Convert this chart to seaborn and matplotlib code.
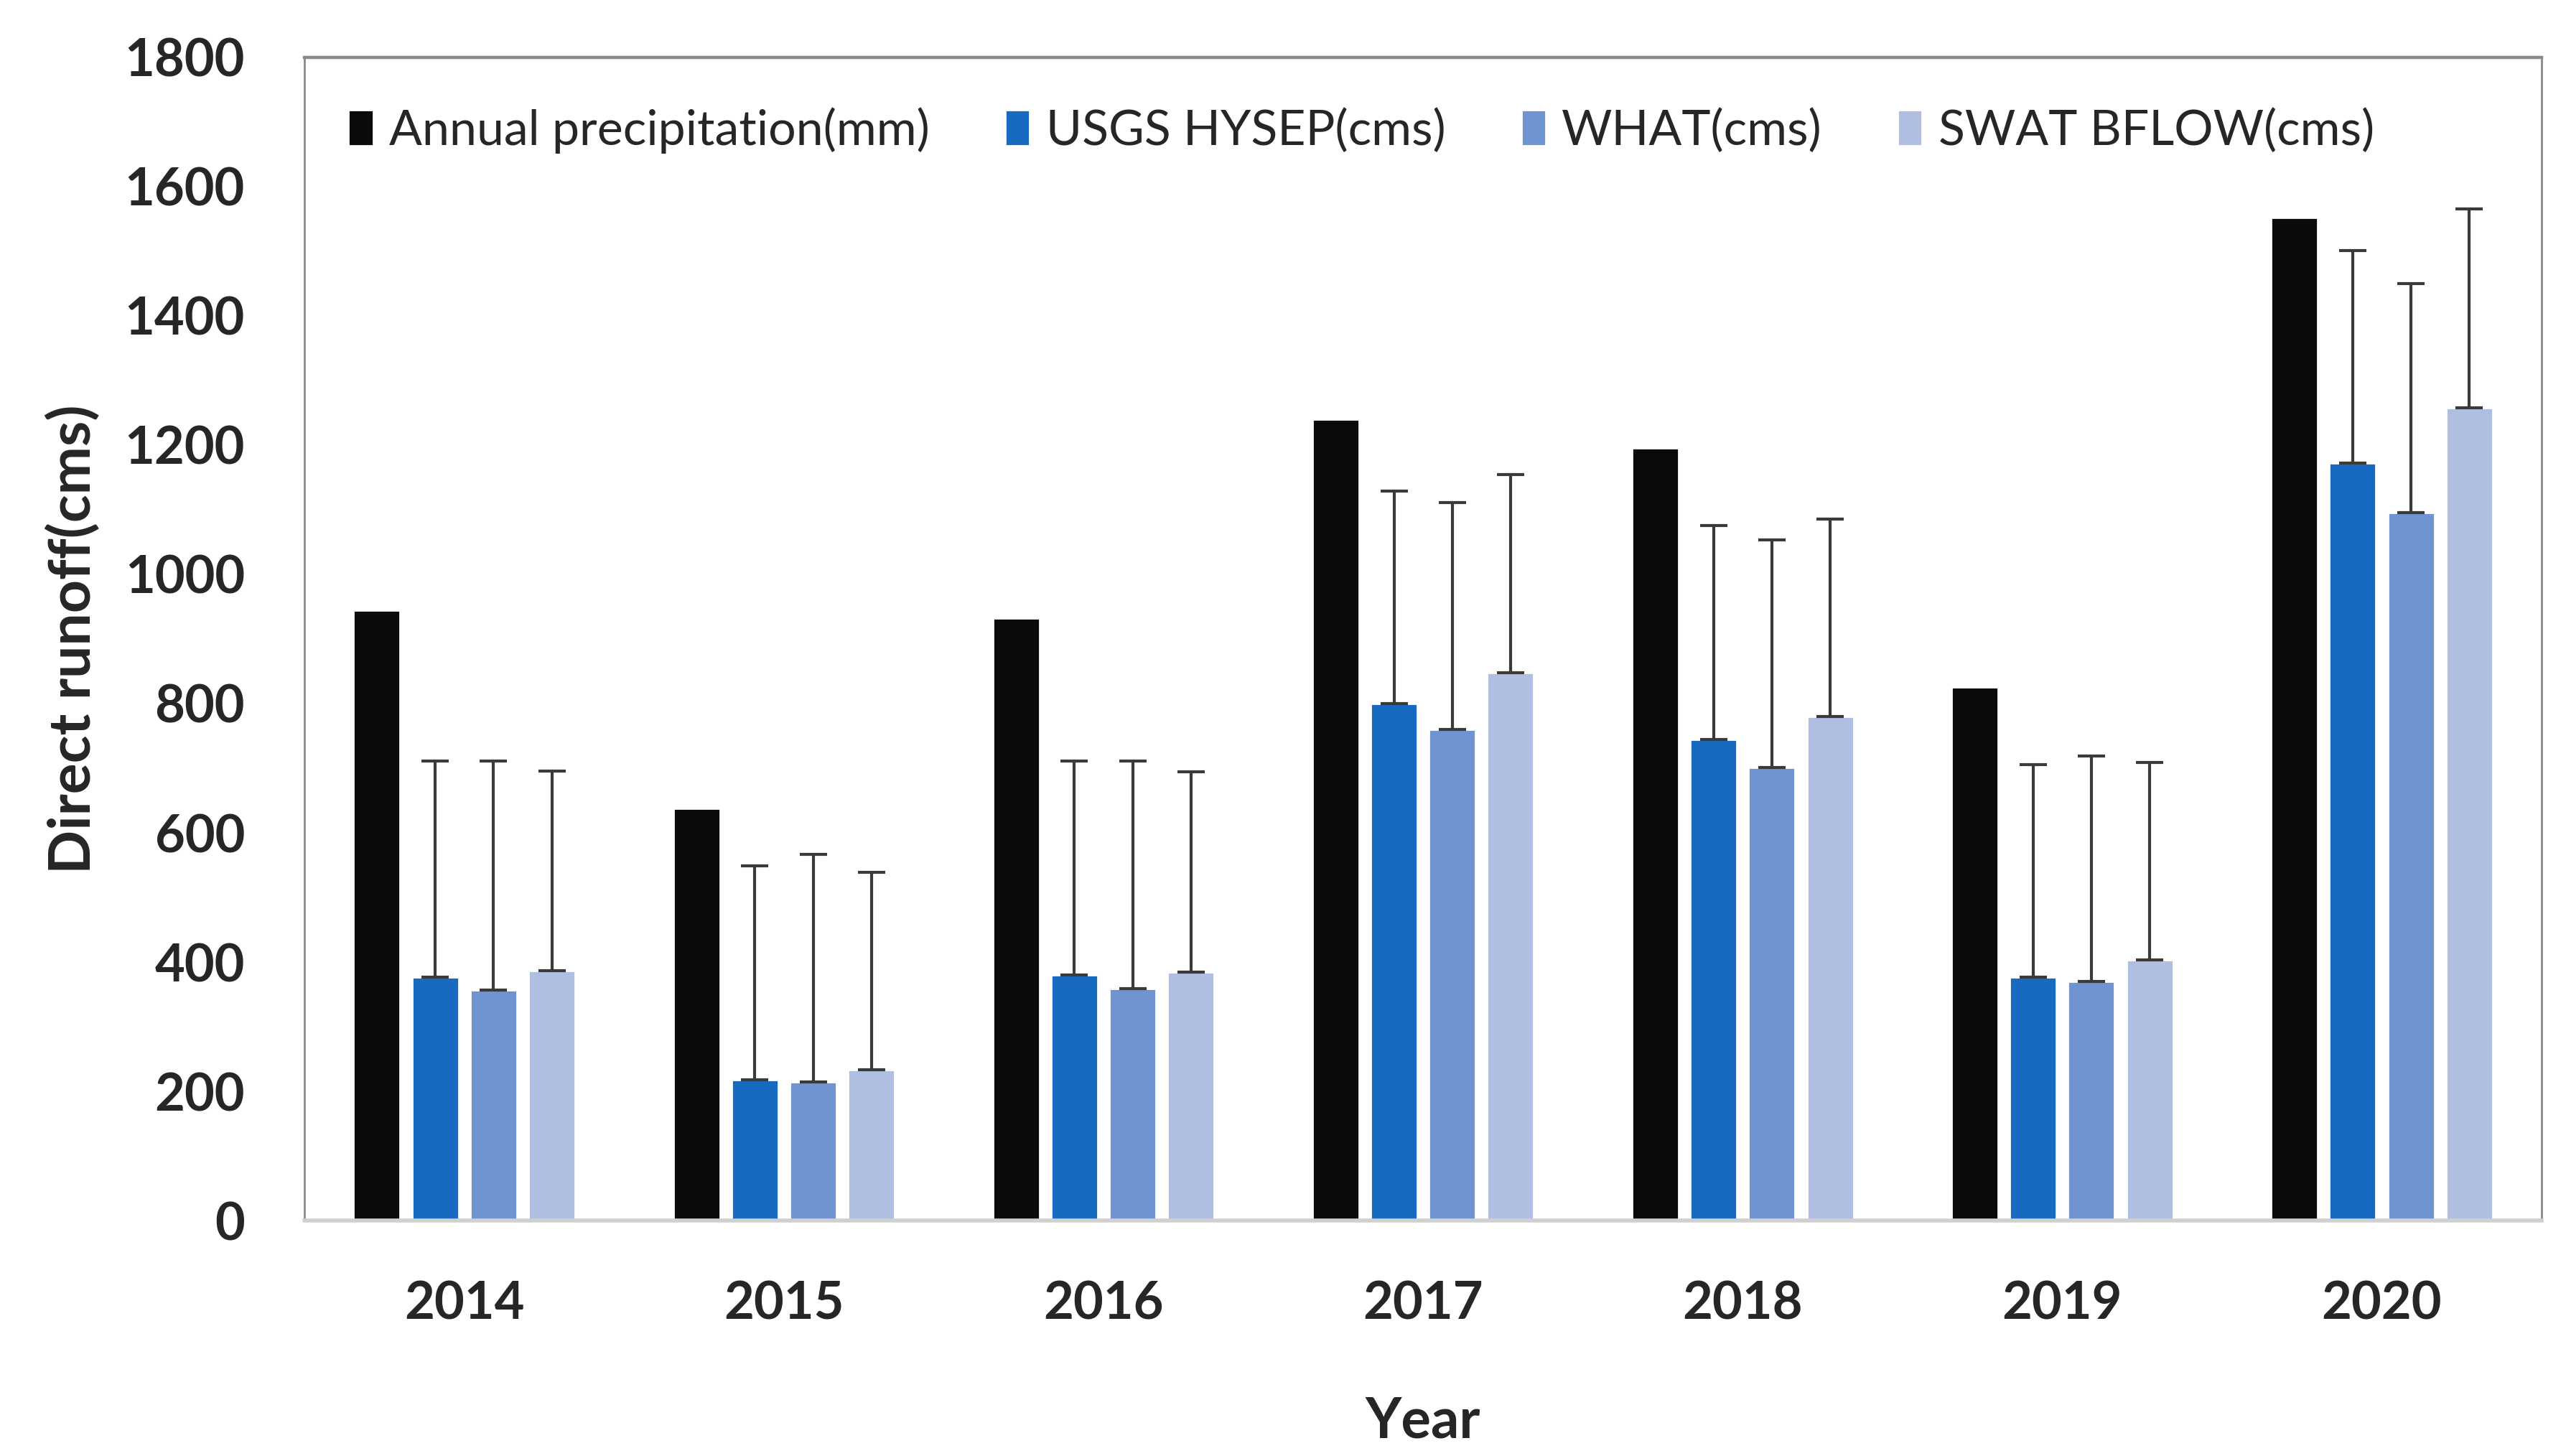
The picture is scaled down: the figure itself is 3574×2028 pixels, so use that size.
import matplotlib
matplotlib.use("Agg")
import matplotlib.pyplot as plt
import seaborn as sns
import pandas as pd
import numpy as np

years = ["2014", "2015", "2016", "2017", "2018", "2019", "2020"]
series = ["Annual precipitation(mm)", "USGS HYSEP(cms)", "WHAT(cms)", "SWAT BFLOW(cms)"]
precip = [944, 638, 932, 1240, 1195, 825, 1552]
usgs = [377, 218, 380, 800, 744, 377, 1172]
what = [357, 215, 359, 760, 701, 370, 1096]
swat = [387, 233, 385, 848, 780, 403, 1258]
# upper whisker tops
usgs_top = [711, 549, 711, 1129, 1076, 706, 1501]
what_top = [711, 567, 711, 1111, 1053, 719, 1450]
swat_top = [696, 539, 694, 1154, 1086, 709, 1565]
colors = ["#0a0a0a", "#176ac0", "#7093d2", "#b0bfe1"]

rows = []
for name, vals in zip(series, [precip, usgs, what, swat]):
    for y, v in zip(years, vals):
        rows.append({"Year": y, "Series": name, "Value": v})
df = pd.DataFrame(rows)

sns.set_style("white")
plt.rcParams["font.family"] = ["Lato", "DejaVu Sans"]

fig = plt.figure(figsize = (17.87, 10.14), dpi = 200)
ax = fig.add_axes([0.1187, 0.1617, 0.8718, 0.7989])
sns.barplot(data = df, x = "Year", y = "Value", hue = "Series", palette = colors, width = 0.73, gap = 0.2, errorbar = None, ax = ax, saturation = 1)

tops = [None, usgs_top, what_top, swat_top]
vals_all = [precip, usgs, what, swat]
bar_conts = list(ax.containers)
for i, cont in enumerate(bar_conts):
    if tops[i] is None:
        continue
    xs = [p.get_x() + p.get_width() / 2 for p in cont.patches]
    up = np.array(tops[i]) - np.array(vals_all[i])
    ax.errorbar(xs, vals_all[i], yerr = [np.zeros(len(up)), up], fmt = "none", ecolor = "#3a3a3a", elinewidth = 1.5, capsize = 7, capthick = 1.5, zorder = 5)

ax.set_ylim(0, 1800)
ax.set_xlim(-0.5, 6.5)
ax.set_yticks(range(0, 1801, 200))
ax.tick_params(axis = "both", length = 0, labelsize = 26)
ax.tick_params(axis = "x", pad = 30)
ax.tick_params(axis = "y", pad = 30)
for lab in ax.get_xticklabels() + ax.get_yticklabels():
    lab.set_fontweight("bold")
ax.set_xlabel("Year", fontsize = 28, fontweight = "bold", labelpad = 34)
ax.set_ylabel("Direct runoff(cms)", fontsize = 29, fontweight = "bold", labelpad = 12)

for side in ["left", "right"]:
    ax.spines[side].set_color("#8a8a8a")
    ax.spines[side].set_linewidth(1.0)
ax.spines["top"].set_color("#8a8a8a")
ax.spines["top"].set_linewidth(1.6)
ax.spines["bottom"].set_color("#d0d0d0")
ax.spines["bottom"].set_linewidth(2.0)

ax.legend(loc = "upper left", bbox_to_anchor = (0.0, 0.995), ncol = 4, frameon = False, fontsize = 24.5, handlelength = 0.5, handleheight = 0.75, handletextpad = 0.33, columnspacing = 1.55)

plt.savefig("out.png", dpi = 200)
plt.close()
